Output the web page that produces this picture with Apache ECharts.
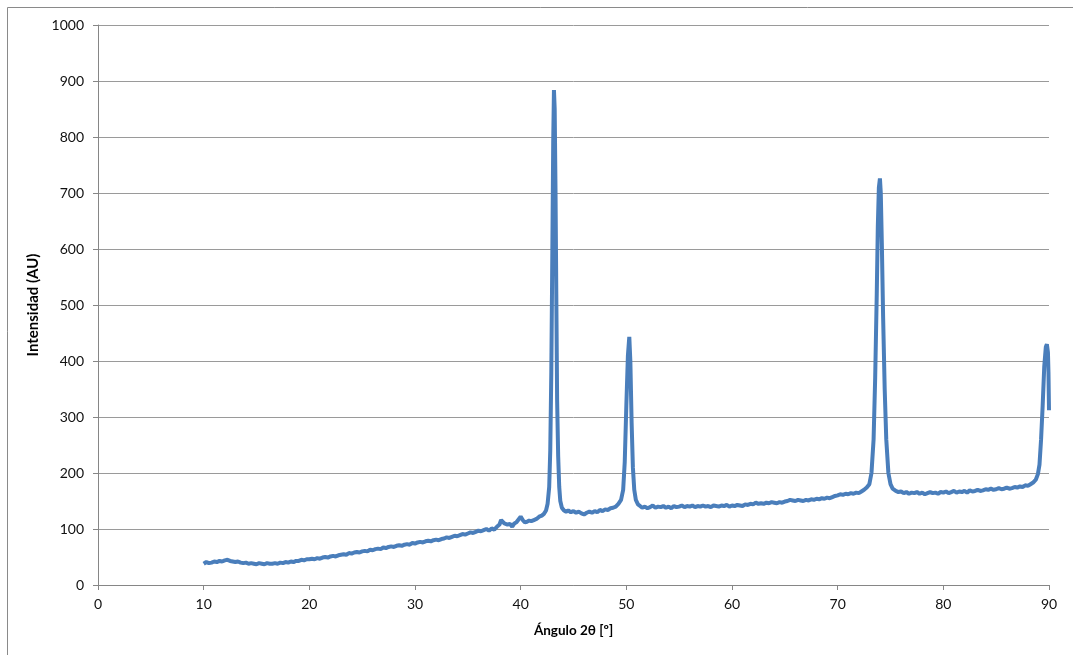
<!DOCTYPE html>
<html>
<head>
<meta charset="utf-8">
<title>Difractograma</title>
<script src="https://cdn.jsdelivr.net/npm/echarts@6/dist/echarts.min.js"></script>
<style>
  html, body { margin: 0; padding: 0; background: #fff; }
  #chart { width: 1073px; height: 655px; }
</style>
</head>
<body>
<div id="chart"></div>
<script>
var fondoBajo = [
  [10.0, 38], [10.25, 41], [10.5, 39], [10.75, 40], [11.0, 42], [11.25, 41], [11.5, 43], [11.75, 42],
  [12.0, 44], [12.25, 45], [12.5, 43], [12.75, 42], [13.0, 41], [13.25, 42], [13.5, 40], [13.75, 39],
  [14.0, 40], [14.25, 38], [14.5, 39], [14.75, 38], [15.0, 37], [15.25, 39], [15.5, 38], [15.75, 37],
  [16.0, 39], [16.25, 38], [16.5, 38], [16.75, 39], [17.0, 38], [17.25, 40], [17.5, 39], [17.75, 41],
  [18.0, 40], [18.25, 42], [18.5, 41], [18.75, 43], [19.0, 43], [19.25, 45], [19.5, 44], [19.75, 46],
  [20.0, 46], [20.25, 47], [20.5, 46], [20.75, 48], [21.0, 47], [21.25, 49], [21.5, 50], [21.75, 49],
  [22.0, 51], [22.25, 52], [22.5, 51], [22.75, 53], [23.0, 54], [23.25, 55], [23.5, 54], [23.75, 57],
  [24.0, 56], [24.25, 58], [24.5, 59], [24.75, 58], [25.0, 60], [25.25, 61], [25.5, 60], [25.75, 63],
  [26.0, 62], [26.25, 64], [26.5, 65], [26.75, 64], [27.0, 67], [27.25, 66], [27.5, 68], [27.75, 69],
  [28.0, 68], [28.25, 70], [28.5, 71], [28.75, 70], [29.0, 72], [29.25, 73], [29.5, 72], [29.75, 75],
  [30.0, 74], [30.25, 76], [30.5, 77], [30.75, 76], [31.0, 78], [31.25, 79], [31.5, 78], [31.75, 80],
  [32.0, 81], [32.25, 80], [32.5, 82], [32.75, 83], [33.0, 85], [33.25, 84], [33.5, 86], [33.75, 88],
  [34.0, 87], [34.25, 89], [34.5, 91], [34.75, 90], [35.0, 92], [35.25, 94], [35.5, 93], [35.75, 95],
  [36.0, 97], [36.25, 96], [36.5, 98], [36.75, 100], [37.0, 97], [37.25, 101], [37.5, 99], [37.75, 104],
  [38.0, 108], [38.15, 116], [38.3, 118], [38.45, 110], [38.6, 112], [38.75, 108], [39.0, 109],
  [39.2, 104], [39.4, 110], [39.6, 112], [39.8, 117], [40.0, 122], [40.2, 116], [40.4, 112],
  [40.6, 113], [40.8, 115], [41.0, 114], [41.25, 116], [41.5, 118], [41.75, 122], [42.0, 124],
  [42.2, 127], [42.4, 133]
];
var pico43 = [
  [42.55, 145], [42.7, 175], [42.8, 240], [42.9, 380], [43.0, 600], [43.08, 790], [43.15, 884],
  [43.22, 850], [43.3, 700], [43.38, 500], [43.45, 330], [43.55, 230], [43.65, 175], [43.75, 150],
  [43.9, 138]
];
var fondo44 = [
  [44.1, 133], [44.3, 131], [44.5, 133], [44.75, 130], [45.0, 132], [45.25, 129], [45.5, 131],
  [45.75, 128], [46.0, 126], [46.25, 129], [46.5, 131], [46.75, 129], [47.0, 132], [47.25, 130],
  [47.5, 134], [47.75, 132], [48.0, 135], [48.25, 134], [48.5, 137], [48.75, 138], [49.0, 140],
  [49.25, 145], [49.5, 152]
];
var pico50 = [
  [49.7, 170], [49.85, 220], [50.0, 320], [50.15, 410], [50.28, 443], [50.38, 400], [50.5, 290],
  [50.62, 210], [50.75, 170], [50.9, 152]
];
var fondoMedio = [
  [51.1, 144], [51.3, 141], [51.5, 138], [51.75, 140], [52.0, 137], [52.25, 139], [52.5, 142],
  [52.75, 138], [53.0, 140], [53.25, 139], [53.5, 141], [53.75, 138], [54.0, 140], [54.25, 137],
  [54.5, 141], [54.75, 139], [55.0, 140], [55.25, 142], [55.5, 139], [55.75, 141], [56.0, 140],
  [56.25, 142], [56.5, 139], [56.75, 141], [57.0, 140], [57.25, 142], [57.5, 140], [57.75, 141],
  [58.0, 139], [58.25, 142], [58.5, 141], [58.75, 140], [59.0, 142], [59.25, 141], [59.5, 143],
  [59.75, 140], [60.0, 142], [60.25, 141], [60.5, 143], [60.75, 142], [61.0, 141], [61.25, 144],
  [61.5, 143], [61.75, 145], [62.0, 144], [62.25, 147], [62.5, 145], [62.75, 146], [63.0, 145],
  [63.25, 147], [63.5, 146], [63.75, 148], [64.0, 147], [64.25, 146], [64.5, 148], [64.75, 147],
  [65.0, 149], [65.25, 150], [65.5, 152], [65.75, 151], [66.0, 150], [66.25, 152], [66.5, 151],
  [66.75, 150], [67.0, 152], [67.25, 151], [67.5, 153], [67.75, 152], [68.0, 154], [68.25, 153],
  [68.5, 155], [68.75, 154], [69.0, 156], [69.25, 155], [69.5, 157], [69.75, 159], [70.0, 160],
  [70.25, 162], [70.5, 161], [70.75, 163], [71.0, 162], [71.25, 164], [71.5, 163], [71.75, 165],
  [72.0, 164], [72.25, 167], [72.5, 170], [72.75, 174], [73.0, 180]
];
var pico74 = [
  [73.2, 200], [73.4, 260], [73.55, 370], [73.7, 520], [73.8, 640], [73.9, 710], [74.0, 726],
  [74.08, 700], [74.18, 610], [74.3, 480], [74.45, 350], [74.6, 260], [74.8, 200], [75.0, 180],
  [75.2, 172]
];
var fondoAlto = [
  [75.5, 168], [75.75, 166], [76.0, 167], [76.25, 164], [76.5, 166], [76.75, 163], [77.0, 165],
  [77.25, 164], [77.5, 166], [77.75, 163], [78.0, 165], [78.25, 162], [78.5, 164], [78.75, 166],
  [79.0, 164], [79.25, 165], [79.5, 163], [79.75, 166], [80.0, 165], [80.25, 167], [80.5, 164],
  [80.75, 166], [81.0, 168], [81.25, 165], [81.5, 167], [81.75, 166], [82.0, 168], [82.25, 165],
  [82.5, 169], [82.75, 167], [83.0, 168], [83.25, 170], [83.5, 168], [83.75, 169], [84.0, 171],
  [84.25, 170], [84.5, 172], [84.75, 170], [85.0, 171], [85.25, 173], [85.5, 171], [85.75, 172],
  [86.0, 174], [86.25, 172], [86.5, 173], [86.75, 175], [87.0, 174], [87.25, 176], [87.5, 175],
  [87.75, 178], [88.0, 177], [88.25, 180], [88.5, 183], [88.75, 188]
];
var pico90 = [
  [88.95, 198], [89.1, 215], [89.25, 260], [89.4, 320], [89.55, 390], [89.7, 425], [89.8, 430],
  [89.9, 415], [89.95, 380], [90.0, 312]
];

var xMin = 0, xMax = 90, xPaso = 10;
var yMin = 0, yMax = 1000, yPaso = 100;

var datos = [].concat(fondoBajo, pico43, fondo44, pico50, fondoMedio, pico74, fondoAlto, pico90);

var myChart = echarts.init(document.getElementById("chart"));
var fuente = "Lato, 'Open Sans', sans-serif";

var option = {
  backgroundColor: "#fff",
  animation: false,
  graphic: [
    {
      type: "rect",
      shape: { x: 7.5, y: 7.5, width: 1100, height: 700 },
      style: { fill: "none", stroke: "#8a8a8a", lineWidth: 1 },
      silent: true
    }
  ],
  grid: { left: 98, right: 24, top: 25, bottom: 70 },
  xAxis: {
    type: "value",
    min: xMin,
    max: xMax,
    interval: xPaso,
    name: "Ángulo 2θ [º]",
    nameLocation: "middle",
    nameGap: 39,
    nameTextStyle: { color: "#000", fontSize: 13.5, fontWeight: "bold", fontFamily: fuente },
    axisLine: { lineStyle: { color: "#868686", width: 1 } },
    axisTick: { show: true, length: 5, lineStyle: { color: "#868686" } },
    axisLabel: { color: "#111", fontSize: 14, margin: 12, fontFamily: fuente },
    splitLine: { show: false }
  },
  yAxis: {
    type: "value",
    min: yMin,
    max: yMax,
    interval: yPaso,
    name: "Intensidad (AU)",
    nameLocation: "middle",
    nameGap: 50,
    nameRotate: 90,
    nameTextStyle: { color: "#000", fontSize: 15, fontWeight: "bold", fontFamily: fuente },
    axisLine: { show: true, lineStyle: { color: "#868686", width: 1 } },
    axisTick: { show: true, length: 5, lineStyle: { color: "#868686" } },
    axisLabel: {
      color: "#111", fontSize: 14, margin: 14, fontFamily: fuente,
      formatter: function (v) { return String(v); }
    },
    splitLine: { show: true, lineStyle: { color: "#9a9a9a", width: 1 } }
  },
  series: [
    {
      name: "XRD",
      type: "line",
      data: datos,
      showSymbol: false,
      smooth: false,
      lineStyle: { color: "#4a7ebb", width: 4 },
      itemStyle: { color: "#4a7ebb" }
    }
  ]
};
myChart.setOption(option);
</script>
</body>
</html>
